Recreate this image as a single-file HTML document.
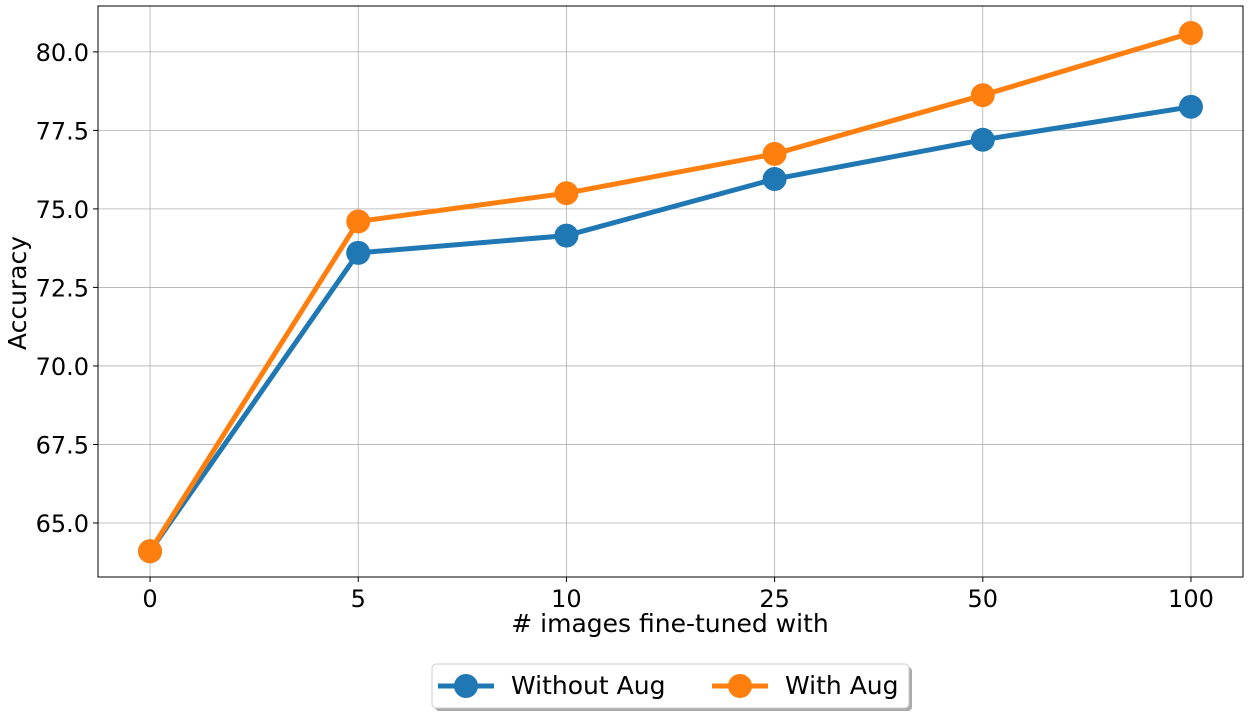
<!DOCTYPE html>
<html><head><meta charset="utf-8"><style>
html,body{margin:0;padding:0;background:#fff;}
svg{display:block;font-family:"DejaVu Sans","Liberation Sans",sans-serif;}
</style></head><body>
<svg id="chart" width="1249" height="715"></svg>
<script>
const categories = ["0","5","10","25","50","100"];
const withoutAug = [64.1, 73.6, 74.15, 75.95, 77.2, 78.25];
const withAug = [64.1, 74.6, 75.5, 76.75, 78.62, 80.6];
const yTicks = [65.0, 67.5, 70.0, 72.5, 75.0, 77.5, 80.0];
const seriesNames = ["Without Aug", "With Aug"];

const NS = "http://www.w3.org/2000/svg";
const svg = document.getElementById("chart");
const L=98, R=1243, T=6, B=577;
const yMin=63.28, yMax=81.46, xMin=-0.25, xMax=5.25;
const xs = i => L + (i - xMin) / (xMax - xMin) * (R - L);
const ys = v => B - (v - yMin) / (yMax - yMin) * (B - T);
function mk(tag, attrs, parent){const e=document.createElementNS(NS,tag);for(const k in attrs)e.setAttribute(k,attrs[k]);(parent||svg).appendChild(e);return e;}

yTicks.forEach(t=>{
  const g=mk("line",{x1:L,x2:R,y1:ys(t),y2:ys(t),stroke:"#b0b0b0","stroke-width":0.8});
  
  
  mk("line",{x1:L-5,x2:L,y1:ys(t),y2:ys(t),stroke:"#000","stroke-width":1});
  const tx=mk("text",{x:L-9,y:ys(t)+9,"text-anchor":"end","font-size":24,fill:"#000"});
  tx.textContent=t.toFixed(1);
  
  
});
categories.forEach((c,i)=>{
  const g=mk("line",{x1:xs(i),x2:xs(i),y1:T,y2:B,stroke:"#b0b0b0","stroke-width":0.8});
  
  
  mk("line",{x1:xs(i),x2:xs(i),y1:B,y2:B+5,stroke:"#000","stroke-width":1});
  const tx=mk("text",{x:xs(i),y:B+30,"text-anchor":"middle","font-size":24,fill:"#000"});
  tx.textContent=c;
  
  
});
const frame=mk("rect",{x:L,y:T,width:R-L,height:B-T,fill:"none",stroke:"#000","stroke-width":1});



function series(vals,color,name){
  const p=mk("polyline",{points:vals.map((v,i)=>xs(i)+","+ys(v)).join(" "),fill:"none",stroke:color,"stroke-width":5,"stroke-linejoin":"round"});
  
  
  vals.forEach((v,i)=>{
    const c=mk("circle",{cx:xs(i),cy:ys(v),r:12,fill:color});
    
    
  });
}
series(withoutAug,"#1f77b4","without-aug");
series(withAug,"#ff7f0e","with-aug");

const xl=mk("text",{x:670,y:632,"text-anchor":"middle","font-size":25,fill:"#000"});
xl.textContent="# images fine-tuned with";


const yl=mk("text",{x:0,y:0,"text-anchor":"middle","font-size":25,fill:"#000",transform:"translate(26,293) rotate(-90)"});
yl.textContent="Accuracy";



const lg=mk("g",{});


mk("rect",{x:435,y:667,width:477,height:44,rx:4,fill:"#555",opacity:0.5},lg);
mk("rect",{x:432,y:664,width:477,height:44,rx:4,fill:"#fff",stroke:"#ccc","stroke-width":1},lg);
const colors=["#1f77b4","#ff7f0e"], lx=[438,712];
seriesNames.forEach((n,k)=>{
  const e=mk("g",{},lg);
  
  
  mk("line",{x1:lx[k],x2:lx[k]+56,y1:686,y2:686,stroke:colors[k],"stroke-width":5},e);
  mk("circle",{cx:lx[k]+28,cy:686,r:12,fill:colors[k]},e);
  const t=mk("text",{x:lx[k]+73,y:694,"font-size":25,fill:"#000"},e);
  t.textContent=n;
});
</script>
</body></html>
